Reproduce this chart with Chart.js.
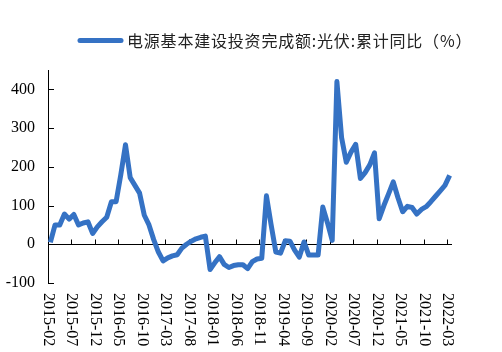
<!DOCTYPE html>
<html>
<head>
<meta charset="utf-8">
<script src="https://cdn.jsdelivr.net/npm/chart.js@4.4.1/dist/chart.umd.min.js"></script>
<style>
  html, body { margin: 0; padding: 0; background: #fff; }
</style>
</head>
<body>
<canvas id="pvChart" width="502" height="352"></canvas>
<script>
// monthly categories 2015-02 .. 2022-03
const startYear = 2015, startMonth = 2, monthCount = 86;
const months = [];
for (let i = 0; i < monthCount; i++) {
  const m = startMonth - 1 + i;
  const y = startYear + Math.floor(m / 12);
  months.push(y + '-' + String(m % 12 + 1).padStart(2, '0'));
}

// 电源基本建设投资完成额:光伏:累计同比 (%)
const pvYoY = [
  5, 50, 50, 78, 65, 77, 50, 55, 58, 28,
  45, 58, 70, 110, 110, 180, 257, 172, 152, 132,
  75, 50, 12, -20, -43, -35, -30, -27, -10, 0,
  8, 14, 18, 21, -65, -48, -32, -52, -60, -55,
  -53, -53, -63, -45, -38, -36, 125, 50, -20, -23,
  9, 8, -15, -33, 6, -28, -28, -28, 96, 55,
  10, 420, 275, 212, 238, 258, 170, 185, 205, 236,
  66, 100, 130, 161, 120, 84, 98, 95, 78, 90,
  97, 110, 124, 138, 152, 178
];

const xTickLabels = ['2015-02', '2015-07', '2015-12', '2016-05', '2016-10', '2017-03',
  '2017-08', '2018-01', '2018-06', '2018-11', '2019-04', '2019-09', '2020-02',
  '2020-07', '2020-12', '2021-05', '2021-10', '2022-03'];
const yTickLabels = [-100, 0, 100, 200, 300, 400];
const seriesName = '电源基本建设投资完成额:光伏:累计同比（%）';

const lineColor = '#3572C4';
const labelFont = '16px "Liberation Serif", serif';

// hand-drawn axes: x axis crosses at 0, labels at the bottom, ticks pointing inward
const axesPlugin = {
  id: 'excelAxes',
  beforeDatasetsDraw(chart) {
    const ctx = chart.ctx;
    const xs = chart.scales.x, ys = chart.scales.y;
    const left = chart.chartArea.left, right = chart.chartArea.right;
    const half = (xs.getPixelForValue(1) - xs.getPixelForValue(0)) / 2;
    const y0 = ys.getPixelForValue(0);
    ctx.save();
    ctx.strokeStyle = '#000';
    ctx.lineWidth = 1;
    ctx.beginPath();
    ctx.moveTo(left + 0.5, chart.chartArea.top);
    ctx.lineTo(left + 0.5, ys.getPixelForValue(-100));
    yTickLabels.forEach(v => {
      const py = Math.round(ys.getPixelForValue(v)) + 0.5;
      ctx.moveTo(left, py);
      ctx.lineTo(left + 6, py);
    });
    const py0 = Math.round(y0) + 0.5;
    ctx.moveTo(left, py0);
    ctx.lineTo(right, py0);
    xTickLabels.forEach(lbl => {
      const px = Math.round(xs.getPixelForValue(months.indexOf(lbl)) - half) + 0.5;
      ctx.moveTo(px, py0);
      ctx.lineTo(px, py0 - 5);
    });
    ctx.stroke();

    ctx.fillStyle = '#000';
    ctx.font = labelFont;
    ctx.textAlign = 'right';
    ctx.textBaseline = 'middle';
    yTickLabels.forEach(v => {
      ctx.fillText(String(v), left - 13, ys.getPixelForValue(v));
    });

    const labelTop = ys.getPixelForValue(-100) + 10;
    xTickLabels.forEach(lbl => {
      const px = xs.getPixelForValue(months.indexOf(lbl)) - half;
      ctx.save();
      ctx.translate(px, labelTop);
      ctx.rotate(Math.PI / 2);
      ctx.textAlign = 'left';
      ctx.fillText(lbl, 0, 0);
      ctx.restore();
    });
    ctx.restore();
  },
  afterDraw(chart) {
    const ctx = chart.ctx;
    ctx.save();
    ctx.strokeStyle = lineColor;
    ctx.lineWidth = 5;
    ctx.lineCap = 'round';
    ctx.beginPath();
    ctx.moveTo(80, 40.5);
    ctx.lineTo(121, 40.5);
    ctx.stroke();
    ctx.fillStyle = '#222';
    ctx.font = '16px "Noto Sans CJK SC"';
    ctx.letterSpacing = '0.8px';
    ctx.textAlign = 'left';
    ctx.textBaseline = 'middle';
    ctx.fillText(seriesName, 127, 41);
    ctx.restore();
  }
};

new Chart(document.getElementById('pvChart'), {
  type: 'line',
  data: {
    labels: months,
    datasets: [{
      label: seriesName,
      data: pvYoY,
      borderColor: lineColor,
      backgroundColor: lineColor,
      borderWidth: 5,
      borderCapStyle: 'butt',
      borderJoinStyle: 'round',
      pointRadius: 0,
      tension: 0
    }]
  },
  options: {
    responsive: false,
    animation: false,
    devicePixelRatio: 1,
    layout: { padding: { left: 48, right: 50, top: 70, bottom: 69 } },
    plugins: {
      legend: { display: false },
      tooltip: { enabled: false }
    },
    scales: {
      x: { type: 'category', display: false, offset: true },
      y: { display: false, min: -100, max: 450 }
    }
  },
  plugins: [axesPlugin]
});
</script>
</body>
</html>
